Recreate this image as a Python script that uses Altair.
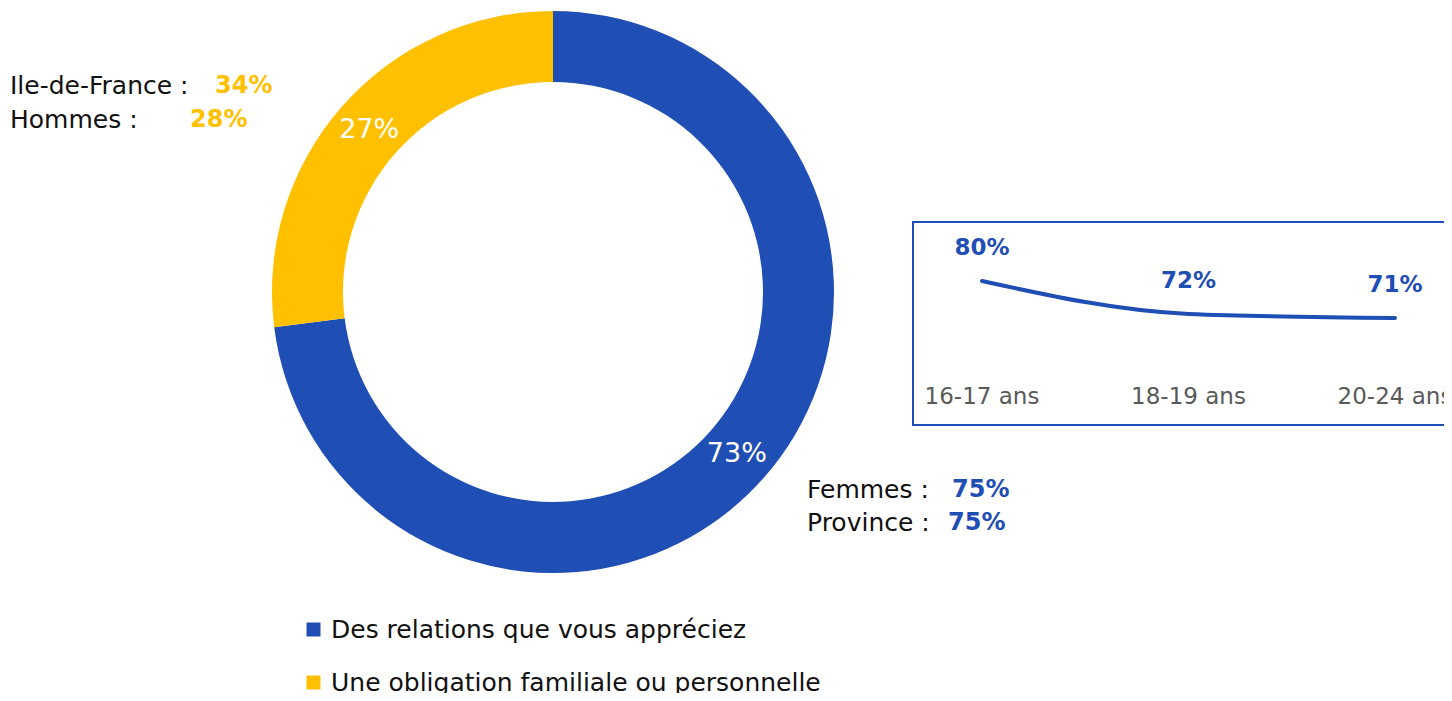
import altair as alt
import pandas as pd

# ---- data ----
categories = ["Des relations que vous appréciez", "Une obligation familiale ou personnelle"]
shares = [73, 27]
share_labels = ["73%", "27%"]
colors = ["#1F4EB4", "#FFC000"]

ages = ["16-17 ans", "18-19 ans", "20-24 ans"]
age_values = [80, 72, 71]
age_labels = ["80%", "72%", "71%"]

left_names = ["Ile-de-France : ", "Hommes :  "]
left_values = ["34%", "28%"]
right_names = ["Femmes :  ", "Province : "]
right_values = ["75%", "75%"]

FONT = "DejaVu Sans"
BLUE = colors[0]
YELLOW = colors[1]

donut_df = pd.DataFrame({"cat": categories, "share": shares, "label": share_labels,
                         "idx": list(range(len(categories)))})
age_df = pd.DataFrame({"age": ages, "value": age_values, "label": age_labels})
one = pd.DataFrame({"a": [0]})

CX, CY = 545, 284

donut = alt.Chart(donut_df).mark_arc(innerRadius=210, outerRadius=281).encode(
    theta=alt.Theta("share:Q", stack=True),
    order=alt.Order("idx:Q"),
    color=alt.Color("cat:N", scale=alt.Scale(domain=categories, range=colors),
                    legend=alt.Legend(title=None)),
    x=alt.value(CX), y=alt.value(CY),
)
donut_txt = alt.Chart(donut_df).mark_text(
    radius=245, font=FONT, fontSize=27, fontWeight="normal", color="white",
    align="center", baseline="middle"
).encode(
    theta=alt.Theta("share:Q", stack=True),
    order=alt.Order("idx:Q"),
    text="label:N",
    x=alt.value(CX), y=alt.value(CY),
)

def ann(name, val, x0, xv, y, col):
    a = alt.Chart(one).mark_text(font=FONT, fontSize=25, fontWeight="normal", color="#111111",
                                 align="left", baseline="middle").encode(
        x=alt.value(x0), y=alt.value(y), text=alt.value(name))
    b = alt.Chart(one).mark_text(font=FONT, fontSize=24, fontWeight="bold", color=col,
                                 align="left", baseline="middle").encode(
        x=alt.value(xv), y=alt.value(y), text=alt.value(val))
    return a + b

anns = (ann(left_names[0], left_values[0], 2, 207, 78, YELLOW)
        + ann(left_names[1], left_values[1], 2, 182, 112, YELLOW)
        + ann(right_names[0], right_values[0], 799, 944, 482, BLUE)
        + ann(right_names[1], right_values[1], 799, 940, 515, BLUE))

box = alt.Chart(one).mark_rect(fill="white", stroke=BLUE, strokeWidth=2).encode(
    x=alt.value(905), x2=alt.value(1470), y=alt.value(214), y2=alt.value(417))

xs = alt.X("age:N", sort=ages, axis=None,
           scale=alt.Scale(type="point", range=[974, 1387], padding=0))
ys = alt.Y("value:Q", axis=None, scale=alt.Scale(domain=[71, 80], range=[310, 273]))

line = alt.Chart(age_df).mark_line(color=BLUE, strokeWidth=4, interpolate="monotone",
                                   strokeCap="round").encode(x=xs, y=ys)
line_lbl = alt.Chart(age_df).mark_text(font=FONT, fontSize=23, fontWeight="bold", color=BLUE,
                                       dy=-33, baseline="middle").encode(x=xs, y=ys, text="label:N")
age_lbl = alt.Chart(age_df).mark_text(font=FONT, fontSize=23, fontWeight="normal", color="#595959",
                                      baseline="middle").encode(x=xs, y=alt.value(389), text="age:N")

chart = alt.layer(donut, donut_txt, anns, box, line, line_lbl, age_lbl).properties(
    width=1436, height=685,
    autosize=alt.AutoSizeParams(type="none"),
    padding=0,
).configure_view(stroke=None).configure_legend(
    orient="none", legendX=293, legendY=609, direction="vertical",
    symbolType="square", symbolSize=196, symbolStrokeWidth=0,
    labelFont=FONT, labelFontSize=25, labelFontWeight="normal", labelColor="#111111",
    labelLimit=0, rowPadding=27, labelOffset=5, padding=0,
)

chart.save("out.html", embed_options={"renderer": "svg", "actions": False})
